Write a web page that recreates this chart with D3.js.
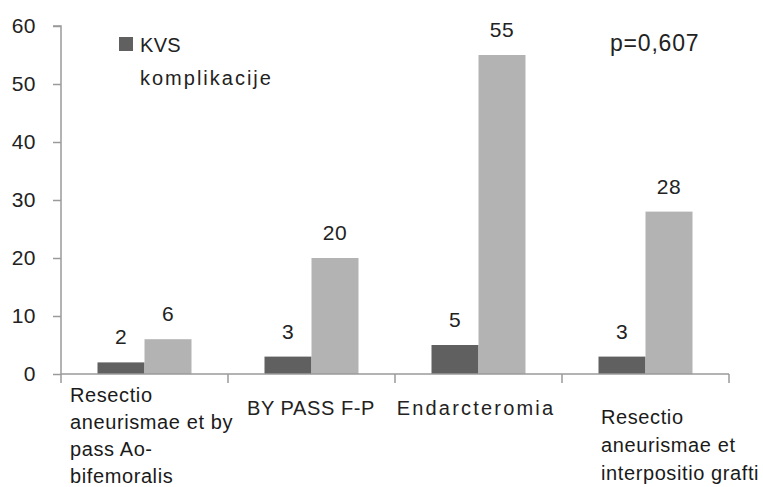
<!DOCTYPE html>
<html><head><meta charset="utf-8">
<script src="https://cdn.jsdelivr.net/npm/d3@7"></script>
<style>body{margin:0;background:#fff;}svg{display:block;}</style>
</head><body>
<script>
const categories = [
  ["Resectio", "aneurismae et by", "pass Ao-", "bifemoralis"],
  ["BY PASS F-P"],
  ["Endarcteromia"],
  ["Resectio", "aneurismae et", "interpositio grafti"]
];
const seriesNames = ["KVS komplikacije", ""];
const kvs = [2, 3, 5, 3];
const other = [6, 20, 55, 28];
const yTicks = [0, 10, 20, 30, 40, 50, 60];
const pText = "p=0,607";

const W = 763, H = 487;
const svg = d3.select("body").append("svg").attr("width", W).attr("height", H);
const x0 = 61, x1 = 729, yTop = 26, yBot = 374;
const x = d3.scaleBand().domain(d3.range(categories.length)).range([x0, x1]).paddingInner(0).paddingOuter(0);
const y = d3.scaleLinear().domain([0, 60]).range([yBot, yTop]);
const barW = 47;
const colors = ["#606060", "#b3b3b3"];
const axisCol = "#9a9a9a";

// y axis
const yAxis = svg.append("g").attr("transform", `translate(${x0},0)`)
  .call(d3.axisLeft(y).tickValues(yTicks).tickSize(8).tickPadding(17).tickFormat(d3.format("d")));
yAxis.select(".domain").attr("stroke", axisCol).attr("stroke-width", 1.5).attr("d", `M-8,${yTop}H0V${yBot}`);
yAxis.selectAll(".tick line").attr("stroke", axisCol).attr("stroke-width", 1.5);
yAxis.selectAll(".tick text").attr("fill", "#222").style("font-family", "Liberation Sans, Arial").style("font-size", "21px").style("letter-spacing", "0.5px");

// bars
const data = [kvs, other];
data.forEach((vals, s) => {
  svg.append("g").selectAll("rect").data(vals).enter().append("rect")
    .attr("x", (d, i) => x(i) + x.bandwidth() / 2 - barW + s * barW)
    .attr("y", d => y(d))
    .attr("width", barW)
    .attr("height", d => yBot - y(d))
    .attr("fill", colors[s]);
  svg.append("g").selectAll("text").data(vals).enter().append("text")
    .attr("x", (d, i) => x(i) + x.bandwidth() / 2 - barW / 2 + s * barW)
    .attr("y", d => y(d) - 18)
    .attr("text-anchor", "middle")
    .attr("fill", "#222")
    .style("font-family", "Liberation Sans, Arial").style("font-size", "21px").style("letter-spacing", "0.5px")
    .text(d => d);
});

// x axis
const xAxis = svg.append("g").attr("transform", `translate(0,${yBot})`);
xAxis.append("path").attr("d", `M${x0},0H${x1}`).attr("stroke", axisCol).attr("stroke-width", 1.5).attr("fill", "none");
const tickXs = d3.range(categories.length + 1).map(i => i < categories.length ? x(i) : x1);
xAxis.selectAll("line.t").data(tickXs).enter().append("line")
  .attr("x1", d => d).attr("x2", d => d).attr("y1", 0).attr("y2", 9)
  .attr("stroke", axisCol).attr("stroke-width", 1.5);

// category labels (custom placement like original)
const labelSpecs = [
  {anchor: "start", dx: 9, y0: 402, lh: 27, ls: 0.6},
  {anchor: "middle", dx: 83, y0: 415, lh: 27, ls: 0.6},
  {anchor: "middle", dx: 81, y0: 415, lh: 27, ls: 2.2},
  {anchor: "start", dx: 39, y0: 424, lh: 28, ls: 0.6}
];
categories.forEach((lines, i) => {
  const sp = labelSpecs[i];
  const t = svg.append("text")
    .attr("text-anchor", sp.anchor)
    .attr("fill", i === 0 || i === 3 ? "#1a1a1a" : "#222")
    .style("font-family", "Liberation Sans, Arial").style("font-size", "20px")
    .style("letter-spacing", sp.ls + "px");
  lines.forEach((ln, j) => {
    t.append("tspan").attr("x", x(i) + sp.dx).attr("y", sp.y0 + j * sp.lh).text(ln);
  });
});

// legend
const lg = svg.append("g");
lg.append("rect").attr("x", 119).attr("y", 37).attr("width", 14).attr("height", 14).attr("fill", colors[0]);
const lt = lg.append("text").attr("fill", "#222")
  .style("font-family", "Liberation Sans, Arial").style("font-size", "20px");
const words = seriesNames[0].split(" ");
lt.append("tspan").attr("x", 140).attr("y", 52).style("letter-spacing", "0.3px").text(words[0]);
lt.append("tspan").attr("x", 140).attr("y", 85).style("letter-spacing", "2px").text(words[1]);

// p value
svg.append("text").attr("x", 610).attr("y", 51).attr("fill", "#222")
  .style("font-family", "Liberation Sans, Arial").style("font-size", "23px").style("letter-spacing", "0.8px")
  .text(pText);
</script>
</body></html>
